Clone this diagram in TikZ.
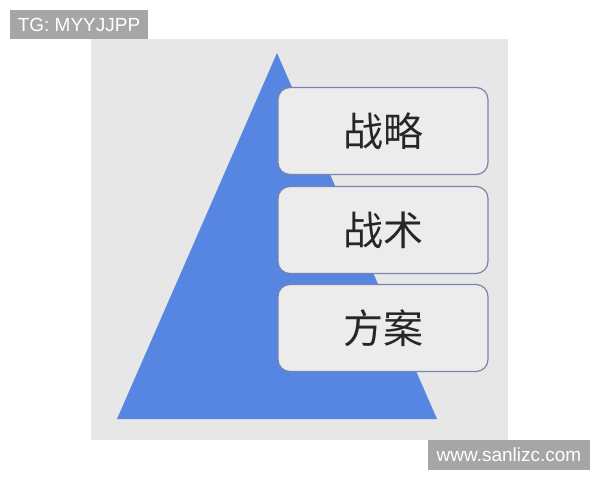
\documentclass[tikz,border=0pt]{standalone}
\usepackage{fontspec}
\setmainfont{Liberation Sans}
\newfontfamily\cjk{Noto Sans CJK SC}
\usepackage{tikz}
\definecolor{panel}{RGB}{231,231,231}
\definecolor{pyramid}{RGB}{86,134,226}
\definecolor{boxline}{RGB}{122,132,172}
\definecolor{boxfill}{RGB}{236,236,236}
\definecolor{tag}{RGB}{166,166,166}

\begin{document}
\begin{tikzpicture}[x=1pt, y=-1pt,
	level/.style={draw=boxline, line width=1.2pt, fill=boxfill, rounded corners=12pt,
		minimum width=210pt, minimum height=87pt, inner sep=0pt, text=black!85,
		font=\cjk\fontsize{40}{40}\selectfont},
	tag box/.style={fill=tag, text=white, inner sep=0pt, font=\fontsize{19}{19}\selectfont}]
	\useasboundingbox (0,0) rectangle (600,480);
	\fill[white] (0,0) rectangle (600,480);
	\fill[panel] (91,39) rectangle (508,440);
	\fill[pyramid] (277,53) -- (437,419) -- (117,419) -- cycle;
	\foreach \name/\txt/\y in {strat/战略/131, tact/战术/230, plan/方案/328}{
		\node[level] (\name) at (383,\y) {\txt};
	}
	\node[tag box, minimum width=138pt, minimum height=29pt] (tg) at (79,24.5) {TG: MYYJJPP};
	\node[tag box, minimum width=162pt, minimum height=30pt] (site) at (509,455) {www.sanlizc.com};
\end{tikzpicture}
\end{document}
